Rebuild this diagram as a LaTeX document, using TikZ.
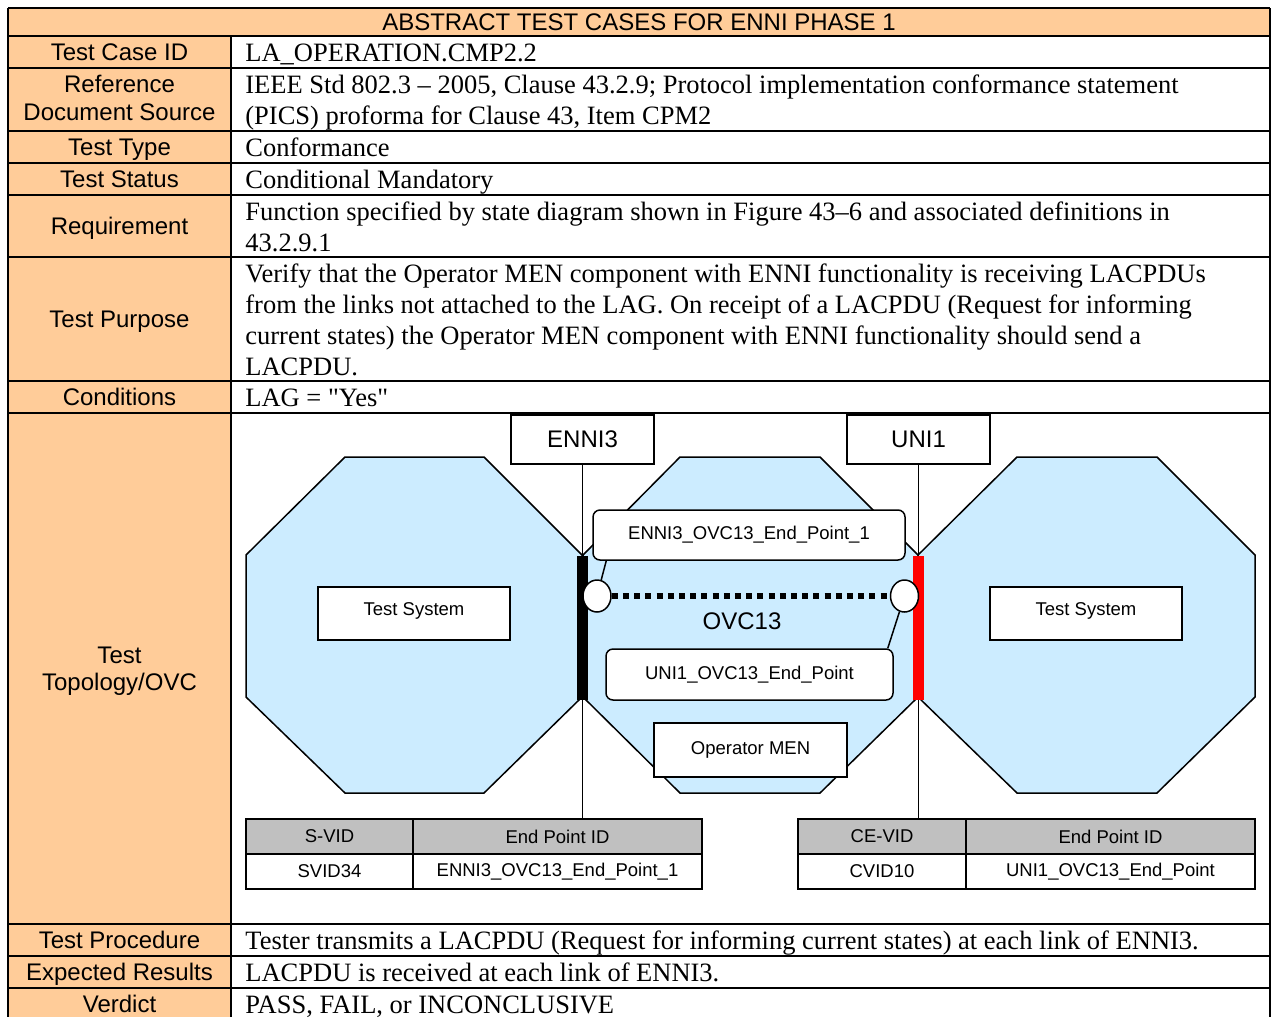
\documentclass[tikz,border=0pt]{standalone}
\usepackage{fontspec}
\setmainfont{Liberation Serif}[Ligatures=TeXOff]
\setsansfont{Liberation Sans}
\usetikzlibrary{calc,shapes.geometric}
\definecolor{myorange}{HTML}{FFCC99}
\definecolor{ltblue}{HTML}{CCECFF}
\definecolor{hdgray}{HTML}{C0C0C0}
\begin{document}
\begin{tikzpicture}[x=0.5pt,y=-0.5pt,
  lab/.style={font=\sffamily\fontsize{12pt}{14pt}\selectfont, anchor=base, inner sep=0pt},
  txt/.style={font=\rmfamily\fontsize{13.25pt}{15.5pt}\selectfont, anchor=base west, inner sep=0pt},
  grid/.style={line width=1pt},
  oct/.style={draw, line width=0.75pt, fill=ltblue, line join=miter},
  bigbox/.style={draw, line width=0.75pt, fill=white, inner sep=0pt, font=\sffamily\fontsize{12pt}{14pt}\selectfont},
  smallbox/.style={draw, line width=0.75pt, fill=white, inner sep=0pt, font=\sffamily\fontsize{9.25pt}{11pt}\selectfont},
  rbox/.style={smallbox, rounded corners=3.5pt},
  cell/.style={draw, line width=0.75pt, inner sep=0pt, minimum height=17.5pt, font=\sffamily\fontsize{9.25pt}{11pt}\selectfont},
  port/.style={draw, line width=0.75pt, fill=white, ellipse, inner sep=0pt, minimum width=14pt, minimum height=16pt},
  conn/.style={line width=0.75pt}
]
\useasboundingbox (0,0) rectangle (1272,1017);
% fills
\fill[myorange] (8,8) rectangle (1270,36);
\fill[myorange] (8,36) rectangle (231,1017);
% grid lines
\foreach \yy in {8,36,68,131,163,195,257,381,413,924,956,988}
  \draw[grid] (8,\yy) -- (1270,\yy);
\draw[grid] (8,8) -- (8,1017);
\draw[grid] (1270,8) -- (1270,1017);
\draw[grid] (231,36) -- (231,1017);
% header
\node[lab] (hdr) at (639,30.6) {ABSTRACT TEST CASES FOR ENNI PHASE 1};
% left labels
\node[lab] (l1) at (119.5,60.6) {Test Case ID};
\node[lab] (l2a) at (119.5,92.6) {Reference};
\node[lab] (l2b) at (119.5,120.6) {Document Source};
\node[lab] (l3) at (119.5,155.6) {Test Type};
\node[lab] (l4) at (119.5,187.6) {Test Status};
\node[lab] (l5) at (119.5,234.6) {Requirement};
\node[lab] (l6) at (119.5,327.6) {Test Purpose};
\node[lab] (l7) at (119.5,405.6) {Conditions};
\node[lab] (l8a) at (119.5,663.6) {Test};
\node[lab] (l8b) at (119.5,690.6) {Topology/OVC};
\node[lab] (l9) at (119.5,948.6) {Test Procedure};
\node[lab] (l10) at (119.5,980.6) {Expected Results};
\node[lab] (l11) at (119.5,1012.6) {Verdict};
% right texts
\node[txt] (r1) at (245,61) {LA\_OPERATION.CMP2.2};
\node[txt] (r2a) at (245,93) {IEEE Std 802.3 – 2005, Clause 43.2.9; Protocol implementation conformance statement};
\node[txt] (r2b) at (245,124) {(PICS) proforma for Clause 43, Item CPM2};
\node[txt] (r3) at (245,156) {Conformance};
\node[txt] (r4) at (245,188) {Conditional Mandatory};
\node[txt] (r5a) at (245,220) {Function specified by state diagram shown in Figure 43–6 and associated definitions in};
\node[txt] (r5b) at (245,251) {43.2.9.1};
\node[txt] (r6a) at (245,282) {Verify that the Operator MEN component with ENNI functionality is receiving LACPDUs};
\node[txt] (r6b) at (245,313) {from the links not attached to the LAG. On receipt of a LACPDU (Request for informing};
\node[txt] (r6c) at (245,344) {current states) the Operator MEN component with ENNI functionality should send a};
\node[txt] (r6d) at (245,375) {LACPDU.};
\node[txt] (r7) at (245,406) {LAG = "Yes"};
\node[txt] (r9) at (245,949) {Tester transmits a LACPDU (Request for informing current states) at each link of ENNI3.};
\node[txt] (r10) at (245,981) {LACPDU is received at each link of ENNI3.};
\node[txt] (r11) at (245,1013) {PASS, FAIL, or INCONCLUSIVE};
% ---------- diagram ----------
\draw[oct] (345,457) -- (484,457) -- (582,555) -- (582,697) -- (484,793) -- (345,793) -- (246,697) -- (246,555) -- cycle;
\draw[oct] (680,457) -- (820,457) -- (918,555) -- (918,697) -- (820,793) -- (680,793) -- (583,697) -- (583,555) -- cycle;
\draw[oct] (1017,457) -- (1157,457) -- (1255,555) -- (1255,697) -- (1157,793) -- (1017,793) -- (918,697) -- (918,555) -- cycle;
% interface boxes
\node[bigbox, minimum width=71.5pt, minimum height=24.5pt] (enni3) at (582.5,439.5) {ENNI3};
\node[bigbox, minimum width=71.5pt, minimum height=24.5pt] (uni1) at (918.5,439.5) {UNI1};
% tables
\node[cell, fill=hdgray, minimum width=83.5pt] (svh1) at (329.5,836.5) {S-VID};
\node[cell, fill=hdgray, minimum width=144.5pt] (svh2) at (557.5,836.5) {End Point ID};
\node[cell, fill=white, minimum width=83.5pt] (svd1) at (329.5,871.5) {SVID34};
\node[cell, fill=white, minimum width=144.5pt] (svd2) at (557.5,871.5) {ENNI3\_OVC13\_End\_Point\_1};
\node[cell, fill=hdgray, minimum width=84pt] (cvh1) at (882,836.5) {CE-VID};
\node[cell, fill=hdgray, minimum width=144.5pt] (cvh2) at (1110.5,836.5) {End Point ID};
\node[cell, fill=white, minimum width=84pt] (cvd1) at (882,871.5) {CVID10};
\node[cell, fill=white, minimum width=144.5pt] (cvd2) at (1110.5,871.5) {UNI1\_OVC13\_End\_Point};
% vertical drop lines
\draw[conn] (enni3.south) -- (enni3.south |- svh2.north);
\draw[conn] (uni1.south) -- (uni1.south |- cvh1.north);
% LAG bars
\fill[black] (577,556) rectangle (588,700);
\fill[red] (913,556) rectangle (924,700);
% inner boxes
\node[smallbox, minimum width=96pt, minimum height=26.5pt] (ts1) at (414,613.5) {\raisebox{4pt}{Test System}};
\node[smallbox, minimum width=96pt, minimum height=26.5pt] (ts2) at (1086,613.5) {\raisebox{4pt}{Test System}};
\node[rbox, minimum width=156pt, minimum height=25pt] (ep1) at (749,535) {ENNI3\_OVC13\_End\_Point\_1};
\node[rbox, minimum width=143.5pt, minimum height=25.5pt] (ep2) at (749.5,674.5) {UNI1\_OVC13\_End\_Point};
\node[smallbox, minimum width=96.5pt, minimum height=27pt] (opmen) at (750.5,750) {\raisebox{2pt}{Operator MEN}};
\node[font=\sffamily\fontsize{12pt}{14pt}\selectfont, inner sep=0pt] (ovc) at (742,621) {OVC13};
% ports and OVC
\node[port] (c1) at (597,596) {};
\node[port] (c2) at (904.5,596) {};
\draw[line width=3pt, dash pattern=on 3pt off 2.6pt] (c1) -- (c2);
\draw[conn] ($(ep1.south west)+(14,0)$) -- (c1);
\draw[conn] ($(ep2.north east)+(-6,0)$) -- (c2);
\end{tikzpicture}
\end{document}
